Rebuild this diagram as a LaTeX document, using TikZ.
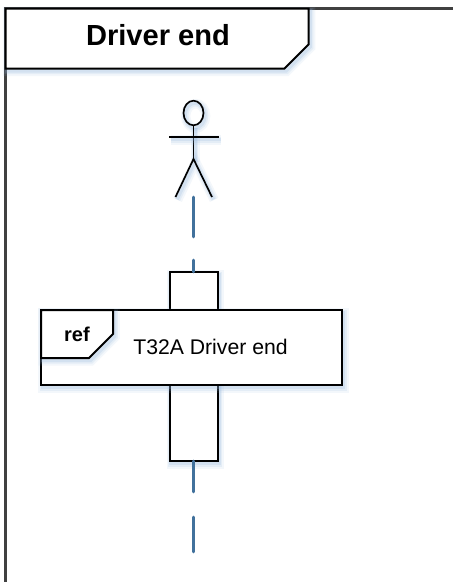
\documentclass[tikz,border=0pt]{standalone}
\usepackage{fontspec}
\setmainfont{Liberation Sans}
\definecolor{lifeblue}{HTML}{41719C}
\definecolor{shade}{HTML}{8FB2DA}
\tikzset{
  px/.style={x=0.75pt,y=-0.75pt},
  softshadow/.style={
    preaction={draw=shade,draw opacity=.10,line width=7pt,transform canvas={shift={(1.6pt,-2.2pt)}}},
    preaction={draw=shade,draw opacity=.14,line width=4.5pt,transform canvas={shift={(1.4pt,-2pt)}}},
    preaction={draw=shade,draw opacity=.20,line width=2.5pt,transform canvas={shift={(1.2pt,-1.8pt)}}}},
  outline/.style={draw=black,line width=1.5pt,line join=miter},
  figure/.style={draw=black,line width=1.25pt,softshadow},
  lifeline/.style={draw=lifeblue,line width=1.9pt,line cap=round},
  barbox/.style={outline,fill=white,softshadow,minimum width=36pt,inner sep=0pt,outer sep=0pt},
  lbl/.style={inner sep=0pt,text=black}
}
\begin{document}
\begin{tikzpicture}[px]
\useasboundingbox (0,0) rectangle (453,582);
\fill[white] (0,0) rectangle (453,582);
% frame
\draw[draw=black!75,line width=1.7pt] (5.5,582) -- (5.5,8.5) -- (453,8.5);
\path[outline,fill=white,softshadow] (5.5,8.5) -- (308.5,8.5) -- (308.5,44.5) -- (284.5,68.5) -- (5.5,68.5) -- cycle;
\node[lbl,font=\bfseries\fontsize{21.8pt}{24pt}\selectfont,anchor=base] (title) at (158,45.5) {Driver end};
% actor
\draw[figure] (193.5,113) ellipse [x radius=10,y radius=12.3];
\coordinate (neck) at (193.5,125.3);
\coordinate (hip) at (193.5,159);
\coordinate (armL) at (169,137);
\coordinate (armR) at (219,137);
\coordinate (legL) at (175.5,197);
\coordinate (legR) at (212,197);
\draw[figure] (neck) -- (hip);
\draw[figure] (armL) -- (armR);
\draw[figure] (legL) -- (hip) -- (legR);
% lifeline
\coordinate (a1) at (193.5,197);
\coordinate (a2) at (193.5,237);
\coordinate (a3) at (193.5,260);
\coordinate (b1) at (193.5,461);
\coordinate (b2) at (193.5,492);
\coordinate (b3) at (193.5,517);
\coordinate (b4) at (193.5,552);
\node[barbox,minimum height=28.5pt,anchor=north] (upper) at (193.5,272) {};
\node[barbox,minimum height=57pt,anchor=north] (lower) at (193.5,385) {};
\draw[lifeline] (a1) -- (a2);
\draw[lifeline] (a3) -- (upper.north);
\draw[lifeline] (lower.south) -- (b2);
\draw[lifeline] (b3) -- (b4);
% ref
\node[outline,fill=white,softshadow,anchor=north west,minimum width=225.75pt,minimum height=56.25pt,inner sep=0pt,outer sep=0pt] (refbox) at (41,310) {};
\path[outline,fill=white,softshadow] (41,310) -- (113,310) -- (113,334) -- (89,358) -- (41,358) -- cycle;
\node[lbl,font=\bfseries\fontsize{15pt}{18pt}\selectfont,anchor=base] (reftag) at (77,341.5) {ref};
\node[lbl,font=\fontsize{15.9pt}{19pt}\selectfont,anchor=base] (reftext) at (210.5,354) {T32A Driver end};
\end{tikzpicture}
\end{document}
